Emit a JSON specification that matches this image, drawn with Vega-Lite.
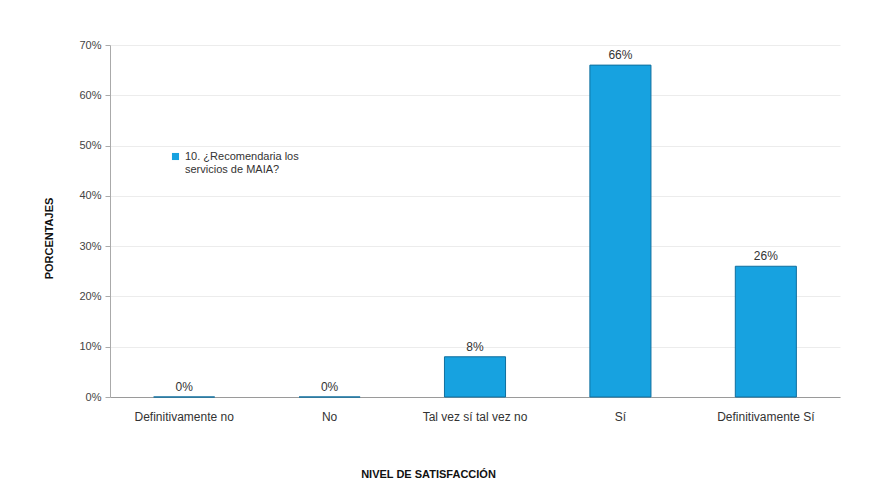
{
  "$schema": "https://vega.github.io/schema/vega-lite/v6.json",
  "autosize": "none",
  "width": 730,
  "height": 352,
  "padding": {"left": 110, "top": 45, "right": 39, "bottom": 105},
  "background": "white",
  "config": {
    "font": "Liberation Sans",
    "view": {"stroke": null}
  },
  "data": {
    "values": [
      {"nivel": "Definitivamente no", "pct": 0.0, "serie": "10. ¿Recomendaria los servicios de MAIA?"},
      {"nivel": "No", "pct": 0.0, "serie": "10. ¿Recomendaria los servicios de MAIA?"},
      {"nivel": "Tal vez sí tal vez no", "pct": 0.08, "serie": "10. ¿Recomendaria los servicios de MAIA?"},
      {"nivel": "Sí", "pct": 0.66, "serie": "10. ¿Recomendaria los servicios de MAIA?"},
      {"nivel": "Definitivamente Sí", "pct": 0.26, "serie": "10. ¿Recomendaria los servicios de MAIA?"}
    ]
  },
  "encoding": {
    "x": {
      "field": "nivel",
      "type": "nominal",
      "sort": null,
      "scale": {"paddingInner": 0.58, "paddingOuter": 0.3},
      "axis": {
        "title": "NIVEL DE SATISFACCIÓN",
        "titleFont": "Liberation Sans",
        "titleFontSize": 11,
        "titleFontWeight": "bold",
        "titleColor": "#111111",
        "titlePadding": 46,
        "titleX": 318,
        "labelAngle": 0,
        "labelFontSize": 12,
        "labelColor": "#333333",
        "labelPadding": 14,
        "domainColor": "#9a9a9a",
        "ticks": false
      }
    },
    "y": {
      "field": "pct",
      "type": "quantitative",
      "scale": {"domain": [0, 0.7]},
      "axis": {
        "title": "PORCENTAJES",
        "titleFont": "Liberation Sans",
        "titleFontSize": 11,
        "titleFontWeight": "bold",
        "titleColor": "#111111",
        "titlePadding": 24,
        "titleY": 193,
        "format": ".0%",
        "values": [0, 0.1, 0.2, 0.3, 0.4, 0.5, 0.6, 0.7],
        "labelFontSize": 11,
        "labelColor": "#444444",
        "labelPadding": 4,
        "domainColor": "#aaaaaa",
        "tickColor": "#aaaaaa",
        "tickSize": 5,
        "gridColor": "#ececec"
      }
    }
  },
  "layer": [
    {
      "mark": {"type": "bar", "stroke": "#0f6f9e", "strokeWidth": 1},
      "encoding": {
        "y2": {"datum": 0},
        "color": {
          "field": "serie",
          "type": "nominal",
          "scale": {"range": ["#17a2e0"]},
          "legend": {
            "title": null,
            "orient": "none",
            "legendX": 60,
            "legendY": 106,
            "symbolType": "square",
            "symbolSize": 50,
            "symbolStrokeWidth": 0,
            "labelFontSize": 11,
            "labelColor": "#333333",
            "labelExpr": "['10. ¿Recomendaria los', 'servicios de MAIA?']",
            "labelLimit": 300
          }
        }
      }
    },
    {
      "mark": {"type": "text", "dy": -10, "fontSize": 12, "color": "#333333"},
      "encoding": {
        "text": {"field": "pct", "type": "quantitative", "format": ".0%"}
      }
    }
  ]
}
